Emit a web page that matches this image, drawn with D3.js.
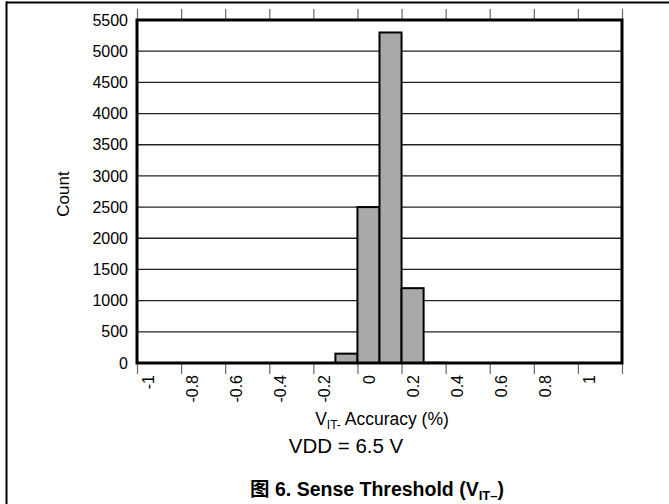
<!DOCTYPE html>
<html>
<head>
<meta charset="utf-8">
<script src="https://cdn.jsdelivr.net/npm/d3@7"></script>
<style>
  html, body { margin: 0; padding: 0; background: #fff; }
  svg { display: block; font-family: "Liberation Sans", Arial, sans-serif; }
</style>
</head>
<body>
<svg id="chart" width="669" height="504"></svg>
<script>
// ---- data ----
const binStarts = [-0.1, 0.0, 0.1, 0.2, 0.3];
const binCounts = [150, 2500, 5300, 1200, 10];
const binWidth = 0.1;
const xTickValues = [-1, -0.8, -0.6, -0.4, -0.2, 0, 0.2, 0.4, 0.6, 0.8, 1, 1.2];
const xTickLabels = ["-1", "-0.8", "-0.6", "-0.4", "-0.2", "0", "0.2", "0.4", "0.6", "0.8", "1", ""];
const yTickValues = [0, 500, 1000, 1500, 2000, 2500, 3000, 3500, 4000, 4500, 5000, 5500];

const svg = d3.select("#chart");
const L = 137, R = 622, T = 20, B = 363;
const x = d3.scaleLinear().domain([-1, 1.2]).range([L, R]);
const y = d3.scaleLinear().domain([0, 5500]).range([B, T]);

// outer frame
svg.append("line").attr("x1", 6.5).attr("x2", 6.5).attr("y1", 1.5).attr("y2", 504)
  .attr("stroke", "#000").attr("stroke-width", 2);
svg.append("line").attr("x1", 6).attr("x2", 669).attr("y1", 2.5).attr("y2", 2.5)
  .attr("stroke", "#000").attr("stroke-width", 2);

// gridlines
svg.append("g").selectAll("line").data(yTickValues.filter(v => v > 0 && v < 5500)).join("line")
  .attr("x1", L).attr("x2", R).attr("y1", d => y(d)).attr("y2", d => y(d))
  .attr("stroke", "#222").attr("stroke-width", 1.3);

// top & bottom tick marks (gray)
const xAxisTop = d3.axisTop(x).tickValues(xTickValues).tickSize(11).tickFormat("");
const gTop = svg.append("g").attr("transform", `translate(0,${T})`).call(xAxisTop);
gTop.select(".domain").remove();
gTop.selectAll("line").attr("stroke", "#666").attr("stroke-width", 1.2);

const xAxisBot = d3.axisBottom(x).tickValues(xTickValues).tickSize(11)
  .tickFormat((d, i) => xTickLabels[i]);
const gBot = svg.append("g").attr("transform", `translate(0,${B})`).call(xAxisBot);
gBot.select(".domain").remove();
gBot.selectAll("line").attr("stroke", "#666").attr("stroke-width", 1.2);
gBot.selectAll("text")
  .attr("font-size", 16).attr("fill", "#000")
  .attr("font-family", "'Liberation Sans', Arial, sans-serif")
  .attr("text-anchor", "end")
  .attr("transform", "rotate(-90)")
  .attr("x", -12).attr("y", 11).attr("dy", "0.35em");

// bars
svg.append("g").selectAll("rect").data(binStarts).join("rect")
  .attr("x", d => x(d))
  .attr("width", d => x(d + binWidth) - x(d))
  .attr("y", (d, i) => y(binCounts[i]))
  .attr("height", (d, i) => B - y(binCounts[i]))
  .attr("fill", "#a9a9a9")
  .attr("stroke", (d, i) => binCounts[i] < 50 ? "#999" : "#000")
  .attr("stroke-width", 2);

// plot frame
svg.append("rect").attr("x", L).attr("y", T).attr("width", R - L).attr("height", B - T)
  .attr("fill", "none").attr("stroke", "#000").attr("stroke-width", 3);

// y axis labels
const yAxis = d3.axisLeft(y).tickValues(yTickValues).tickSize(0).tickPadding(9).tickFormat(d3.format("d"));
const gY = svg.append("g").attr("transform", `translate(${L},0)`).call(yAxis);
gY.select(".domain").remove();
gY.selectAll("text").attr("font-size", 16).attr("fill", "#000")
  .attr("font-family", "'Liberation Sans', Arial, sans-serif");

// axis titles
svg.append("text").attr("transform", "translate(69,194) rotate(-90)")
  .attr("text-anchor", "middle").attr("font-size", 17).text("Count");

const xt = svg.append("text").attr("x", 382).attr("y", 425).attr("text-anchor", "middle").attr("font-size", 17.5);
xt.append("tspan").text("V");
xt.append("tspan").attr("font-size", 12).attr("dy", 4).text("IT-");
xt.append("tspan").attr("dy", -4).text(" Accuracy (%)");

svg.append("text").attr("x", 346).attr("y", 453).attr("text-anchor", "middle")
  .attr("font-size", 20.5).text("VDD = 6.5 V");

const cap = svg.append("text").attr("x", 377).attr("y", 496).attr("text-anchor", "middle")
  .attr("font-size", 19.5).attr("font-weight", "bold");
cap.append("tspan").attr("font-family", "'Noto Sans CJK SC', sans-serif").text("图");
cap.append("tspan").text(" 6. Sense Threshold (V");
cap.append("tspan").attr("font-size", 13).attr("dy", 4).text("IT–");
cap.append("tspan").attr("dy", -4).text(")");
</script>
</body>
</html>
